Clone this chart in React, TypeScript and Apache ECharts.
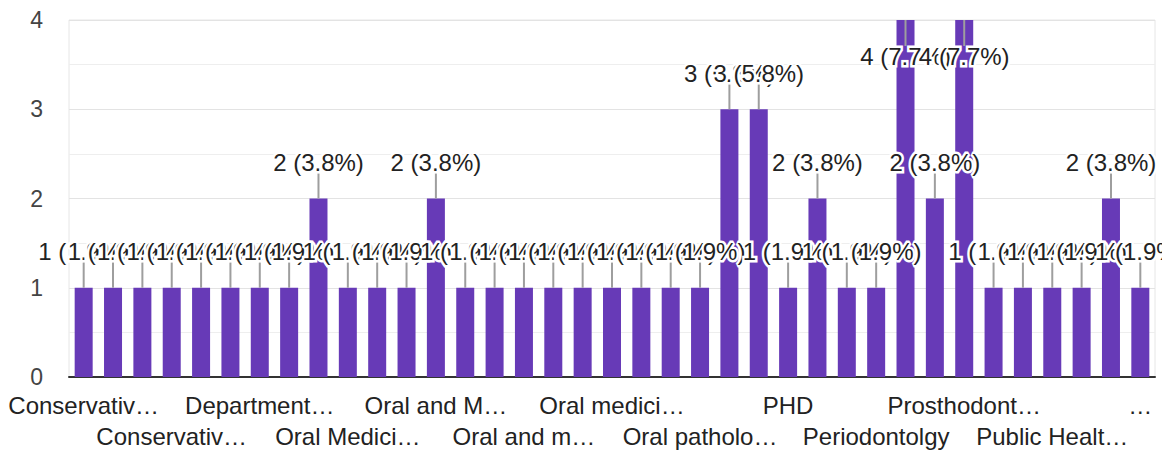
import React, { useEffect, useRef } from "react";
import * as echarts from "echarts";

const categories: string[] = [
  "Conservative Dentistry",
  "Conservative Dentistry and Endodontics",
  "Conservative and Endodontics",
  "Conservative dentistry",
  "Conservative dentistry and endodontics",
  "Dental Public Health",
  "Department of Orthodontics",
  "Endodontics",
  "Oral Medicine",
  "Oral Medicine and Radiology",
  "Oral Medicine, Radiology",
  "Oral Pathology",
  "Oral and Maxillofacial Pathology",
  "Oral and Maxillofacial Surgery",
  "Oral and Maxillofacial surgery",
  "Oral and maxillofacial pathology",
  "Oral and maxillofacial surgery",
  "Oral medicine",
  "Oral medicine and radiology",
  "Oral pathology",
  "Oral pathology & Microbiology",
  "Oral pathology and microbiology",
  "Orthodontics",
  "Orthodontics and Dentofacial Orthopedics",
  "PHD",
  "Pedodontics",
  "Pedodontics and Preventive Dentistry",
  "Periodontolgy",
  "Periodontology",
  "Prosthodontics",
  "Prosthodontics and Implantology",
  "Prosthodontist",
  "Public Health",
  "Public Health Dentistry",
  "Public health dentistry",
  "pedodontics",
  "prosthodontics and crown & bridge",
];

const counts: number[] = [
  1, 1, 1, 1, 1, 1, 1, 1, 2, 1, 1, 1, 2, 1, 1, 1, 1, 1, 1, 1, 1, 1, 3, 3, 1, 2,
  1, 1, 4, 2, 4, 1, 1, 1, 1, 2, 1,
];

// Labels shown on the category axis (every third category, alternating rows)
const tickLabels: string[] = [
  "Conservativ…",
  "Conservativ…",
  "Department…",
  "Oral Medici…",
  "Oral and M…",
  "Oral and m…",
  "Oral medici…",
  "Oral patholo…",
  "PHD",
  "Periodontolgy",
  "Prosthodont…",
  "Public Healt…",
  "…",
];

const yMin = 0;
const yMax = 4;
const yStep = 1;

const FONT = "'Liberation Sans', Arial, sans-serif";

function rowAxis(row: number, extra: any) {
  return {
    type: "category",
    data: categories,
    position: "bottom",
    axisTick: { show: false },
    splitLine: { show: false },
    axisLabel: {
      interval: (i: number) => i % 6 === row * 3,
      hideOverlap: false,
      fontSize: 24,
      color: "#222222",
      lineHeight: 31,
      margin: 13,
      fontFamily: FONT,
      formatter: (_v: string, index: number) => tickLabels[Math.round(index / 3)] ?? "",
    },
    ...extra,
  };
}

export default function App() {
  const ref = useRef<HTMLDivElement>(null);

  useEffect(() => {
    if (!ref.current) return;
    const chart = echarts.init(ref.current, undefined, { renderer: "svg" });
    const total = counts.reduce((a, b) => a + b, 0);

    chart.setOption({
      animation: false,
      textStyle: { fontFamily: FONT },
      grid: {
        left: 69,
        right: 7,
        top: 20,
        bottom: 74,
        show: true,
        borderColor: "#e6e6e6",
        borderWidth: 1,
      },
      xAxis: [
        rowAxis(0, { axisLine: { lineStyle: { color: "#333333", width: 2 } } }),
        rowAxis(1, { axisLine: { show: false }, offset: 31 }),
      ],
      yAxis: {
        type: "value",
        min: yMin,
        max: yMax,
        interval: yStep,
        axisLine: { show: false },
        axisTick: { show: false },
        axisLabel: {
          fontSize: 23,
          color: "#444444",
          margin: 26,
          fontFamily: FONT,
        },
        splitLine: { lineStyle: { color: "#e3e3e3", width: 1 } },
        minorTick: { show: false, splitNumber: 2 },
        minorSplitLine: { show: true, lineStyle: { color: "#eeeeee", width: 1 } },
      },
      series: [
        {
          type: "bar",
          data: counts,
          barWidth: 18,
          itemStyle: { color: "#673ab7" },
          z: 2,
        },
        {
          type: "custom",
          z: 3,
          data: counts.map((c, i) => [i, c]),
          encode: { x: 0, y: 1 },
          renderItem: (params: any, api: any) => {
            const i = api.value(0);
            const v = api.value(1);
            const p = api.coord([i, v]);
            const gridTop = params.coordSys.y;
            const above = p[1] - 50 >= gridTop;
            const dir = above ? -1 : 1;
            const pct = ((v / total) * 100).toFixed(1);
            return {
              type: "group",
              children: [
                {
                  type: "line",
                  shape: { x1: p[0], y1: p[1], x2: p[0], y2: p[1] + dir * 26 },
                  style: { stroke: "#9e9e9e", lineWidth: 2 },
                },
                {
                  type: "text",
                  x: p[0],
                  y: p[1] + dir * 36,
                  style: {
                    text: `${v} (${pct}%)`,
                    align: "center",
                    verticalAlign: "middle",
                    fontSize: 24,
                    fontFamily: FONT,
                    fill: "#222222",
                    stroke: "#ffffff",
                    lineWidth: 5,
                  },
                },
              ],
            };
          },
        },
      ],
    });

    return () => chart.dispose();
  }, []);

  return (
    <div
      ref={ref}
      style={{ position: "absolute", left: 0, top: 0, width: 1162, height: 452 }}
    />
  );
}
